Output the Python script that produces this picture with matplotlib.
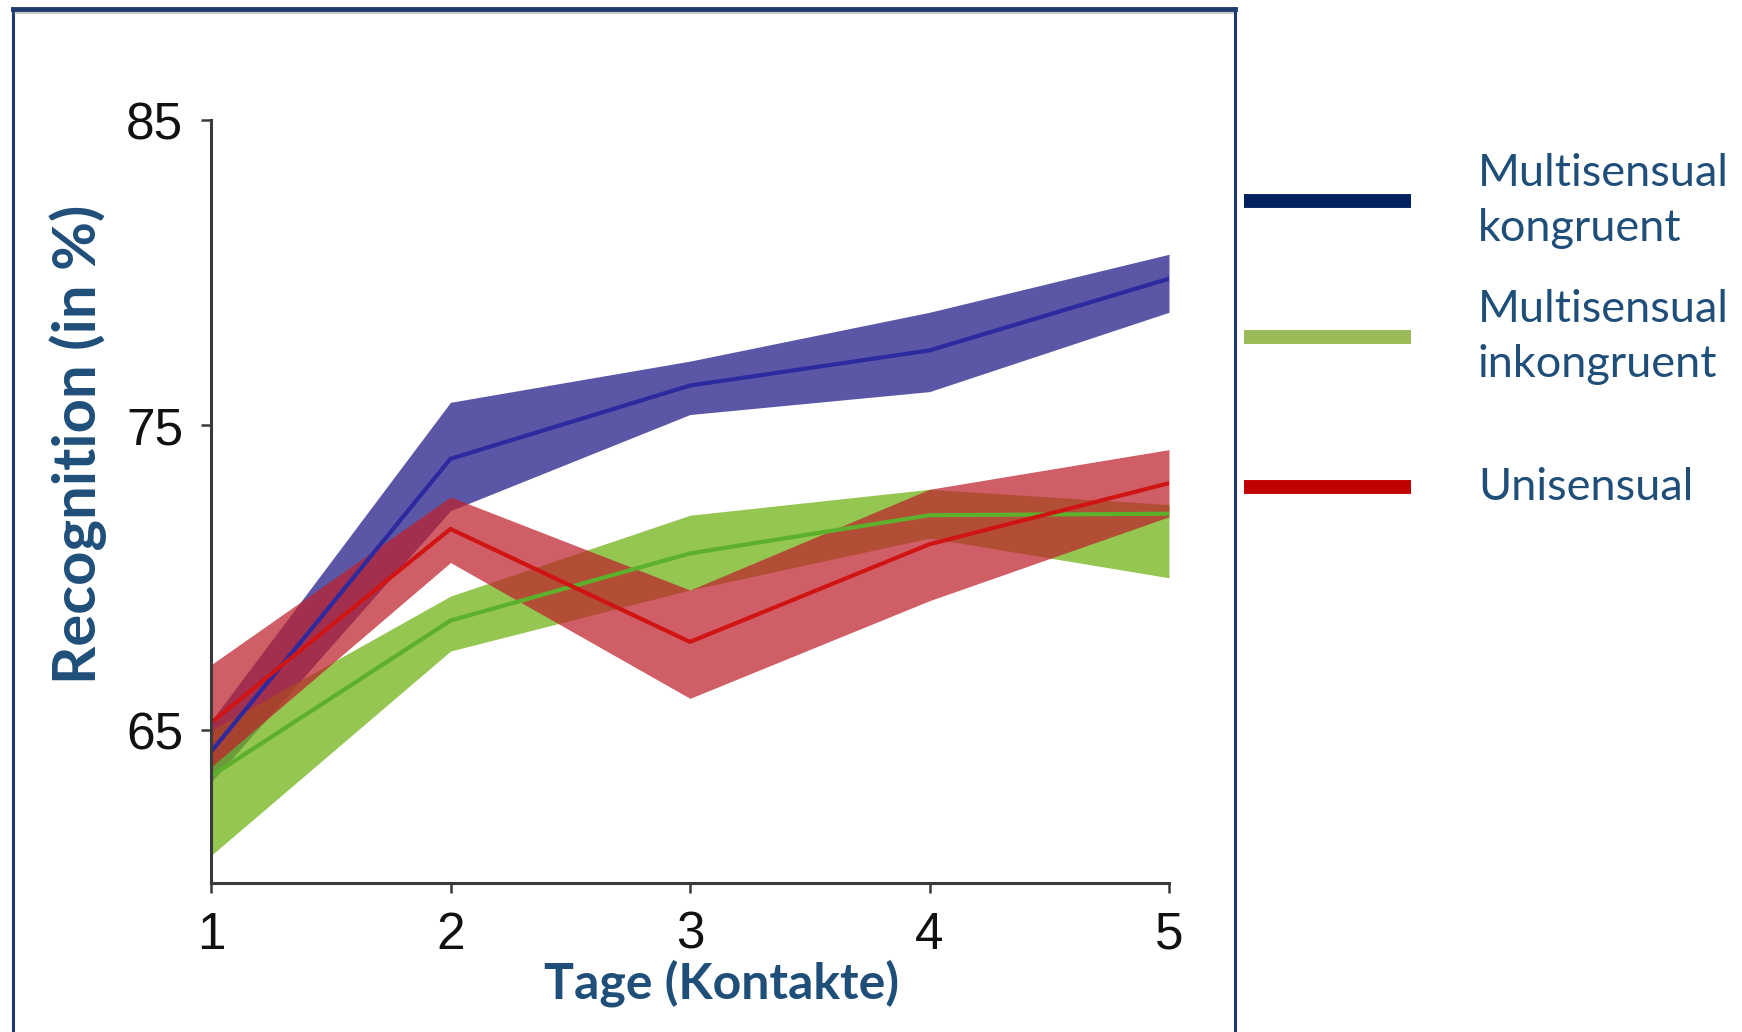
import matplotlib
matplotlib.use("Agg")
import matplotlib.pyplot as plt
from matplotlib.lines import Line2D
from matplotlib.patches import Rectangle

# ---- data ----
days = [1, 2, 3, 4, 5]

kong_mean = [64.3, 73.9, 76.3, 77.45, 79.8]
kong_low = [63.3, 72.2, 75.35, 76.1, 78.7]
kong_high = [65.3, 75.75, 77.1, 78.7, 80.6]

inkong_mean = [63.5, 68.6, 70.8, 72.05, 72.1]
inkong_low = [60.9, 67.6, 69.6, 71.3, 70.0]
inkong_high = [65.0, 69.4, 72.05, 72.9, 72.4]

uni_mean = [65.25, 71.6, 67.9, 71.1, 73.1]
uni_low = [63.8, 70.5, 66.05, 69.25, 72.0]
uni_high = [67.15, 72.65, 69.6, 72.9, 74.2]

yticks = [65, 75, 85]

legend_labels = ["Multisensual\nkongruent", "Multisensual\ninkongruent", "Unisensual"]
legend_colors = ["#002060", "#9BBB59", "#C00000"]

# ---- figure ----
W, H = 1742, 1032
fig = plt.figure(figsize=(W / 100, H / 100), dpi=100)
fig.patch.set_facecolor("white")

# outer frame of the slide box
frame = Rectangle((13 / W, -0.05), (1235 - 13) / W, 1.05 - 9 / H,
                  transform=fig.transFigure, fill=False, edgecolor="#1F3A6E", lw=2.2)
fig.add_artist(frame)
fig.add_artist(Line2D([13 / W, 1235 / W], [1 - 9 / H, 1 - 9 / H], transform=fig.transFigure,
                      color="#1F3A6E", lw=3.5))
fig.add_artist(Line2D([15 / W, 1233 / W], [1 - 13 / H, 1 - 13 / H], transform=fig.transFigure,
                      color="#9a9a9a", lw=1.2, alpha=0.6))

# axes box in pixels: x 211..1169, y (from bottom) 149..912
ax = fig.add_axes([211 / W, 149 / H, (1169 - 211) / W, (912 - 149) / H])

# bands
ax.fill_between(days, kong_low, kong_high, color="#241F88", alpha=0.75, lw=0)
ax.fill_between(days, inkong_low, inkong_high, color="#71B317", alpha=0.75, lw=0)
ax.fill_between(days, uni_low, uni_high, color="#BF202B", alpha=0.72, lw=0)

# mean lines
ax.plot(days, kong_mean, color="#2C2A9E", lw=3)
ax.plot(days, inkong_mean, color="#5DB02C", lw=3)
ax.plot(days, uni_mean, color="#D01414", lw=3)

ax.set_xlim(1, 5)
ax.set_ylim(60, 85)
ax.set_xticks(days)
ax.set_yticks(yticks)

for s in ["top", "right"]:
    ax.spines[s].set_visible(False)
for s in ["left", "bottom"]:
    ax.spines[s].set_color("#3a3a3a")
    ax.spines[s].set_linewidth(2.2)

ax.tick_params(axis="both", direction="out", length=7, width=1.8, color="#3a3a3a",
               labelsize=37, labelcolor="#111111", pad=13)
for lab in ax.get_xticklabels() + ax.get_yticklabels():
    lab.set_fontfamily("Liberation Sans")

ax.set_xlabel("Tage (Kontakte)", fontfamily="Lato", fontweight="bold", fontsize=36,
              color="#1F4E79")
ax.set_ylabel("Recognition (in %)", fontfamily="Lato", fontweight="bold", fontsize=43,
              color="#1F4E79")
ax_w, ax_h = 1169 - 211, 912 - 149
ax.xaxis.set_label_coords((722 - 211) / ax_w, ((H - 983) - 149) / ax_h)
ax.yaxis.set_label_coords((78 - 211) / ax_w, ((H - 444) - 149) / ax_h)
ax.xaxis.label.set_va("center")
ax.yaxis.label.set_va("center")

# legend drawn by hand to match the slide layout
leg_y = [201, 337, 487]
for lab, col, yp in zip(legend_labels, legend_colors, leg_y):
    yf = 1 - yp / H
    fig.add_artist(Line2D([1244 / W, 1411 / W], [yf, yf], transform=fig.transFigure,
                          color=col, lw=10, solid_capstyle="butt"))
    fig.text(1478 / W, yf, lab, fontfamily="Lato", fontsize=32.5, color="#1F4E79",
             va="center", ha="left", linespacing=1.4)

fig.savefig("out.png", dpi=100, facecolor="white")
